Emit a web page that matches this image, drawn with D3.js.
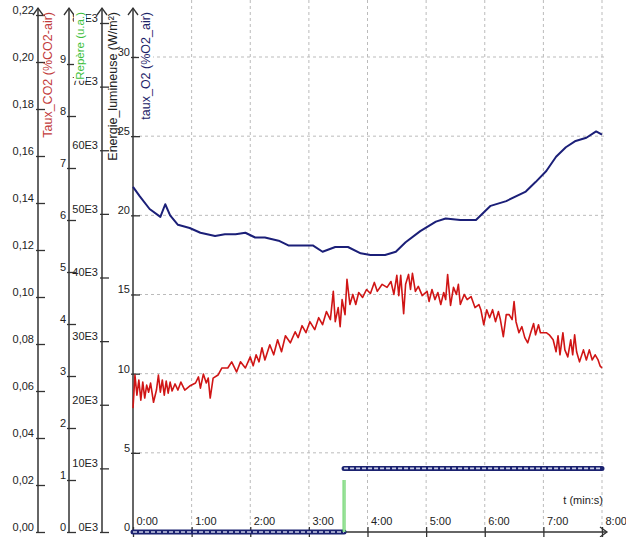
<!DOCTYPE html>
<meta charset="utf-8">
<body style="margin:0;background:#fff">
<style>
text { font-family: "Liberation Sans", Arial, sans-serif; }
.tick text { font-size: 11px; fill: #222; }
.tick line { stroke: #333; stroke-width: 1.3px; }
.grid { stroke: #bbb; stroke-width: 1px; stroke-dasharray: 3,3; }
</style>
<script src="https://cdn.jsdelivr.net/npm/d3@7"></script>
<script>

// time in seconds
var minuteTicks = [0, 60, 120, 180, 240, 300, 360, 420, 480];

var o2Time = [0, 7, 17, 28, 33, 38, 46, 58, 69, 84, 94, 105, 115, 125, 135, 149, 159, 171, 184, 194, 207, 220, 233, 243, 258, 269, 279, 294, 310, 320, 335, 351, 366, 382, 402, 412, 423, 433, 443, 453, 464, 474, 480];
var o2Values = [21.8, 21.2, 20.4, 19.9, 20.7, 20.0, 19.4, 19.2, 18.9, 18.7, 18.8, 18.8, 18.9, 18.6, 18.6, 18.4, 18.1, 18.1, 18.1, 17.7, 18.0, 18.0, 17.6, 17.5, 17.5, 17.7, 18.3, 19.0, 19.6, 19.8, 19.7, 19.7, 20.6, 20.9, 21.5, 22.1, 22.8, 23.7, 24.3, 24.7, 24.9, 25.3, 25.1];

var co2Time = [0, 2, 4, 6, 8, 10, 12, 14, 16, 18, 21, 24, 26, 28, 30, 32, 34, 36, 38, 40, 43, 46, 49, 53, 58, 64, 67, 69, 72, 75, 77, 79, 82, 87, 91, 97, 101, 106, 110, 115, 120, 123, 126, 129, 132, 135, 140, 144, 148, 152, 156, 161, 166, 169, 173, 177, 181, 186, 190, 194, 198, 202, 205, 207, 210, 212, 214, 217, 219, 222, 225, 228, 231, 235, 239, 243, 247, 250, 255, 260, 264, 267, 270, 272, 274, 277, 279, 282, 284, 286, 289, 292, 296, 301, 303, 306, 309, 312, 315, 318, 320, 322, 325, 328, 331, 333, 335, 339, 342, 346, 350, 354, 356, 359, 362, 365, 368, 371, 374, 376, 379, 382, 385, 388, 390, 392, 395, 398, 401, 404, 407, 410, 412, 415, 417, 423, 426, 430, 433, 435, 437, 440, 442, 445, 448, 450, 452, 454, 457, 461, 464, 467, 470, 473, 476, 478, 480];
var co2Values = [0.0527, 0.0668, 0.0582, 0.0647, 0.0561, 0.0638, 0.0570, 0.0625, 0.0595, 0.0634, 0.0552, 0.0604, 0.0668, 0.0595, 0.0647, 0.0582, 0.0642, 0.0591, 0.0638, 0.0600, 0.0630, 0.0604, 0.0638, 0.0604, 0.0621, 0.0634, 0.0660, 0.0612, 0.0672, 0.0634, 0.0655, 0.0570, 0.0655, 0.0668, 0.0698, 0.0698, 0.0724, 0.0681, 0.0724, 0.0698, 0.0745, 0.0707, 0.0754, 0.0724, 0.0784, 0.0732, 0.0797, 0.0754, 0.0818, 0.0767, 0.0835, 0.0805, 0.0852, 0.0827, 0.0878, 0.0848, 0.0895, 0.0861, 0.0912, 0.0882, 0.0938, 0.0904, 0.1024, 0.0895, 0.0955, 0.0874, 0.0989, 0.0925, 0.1075, 0.0968, 0.1011, 0.0968, 0.1019, 0.0998, 0.1032, 0.1015, 0.1062, 0.1024, 0.1054, 0.1041, 0.1066, 0.1011, 0.1092, 0.1006, 0.1092, 0.0929, 0.1054, 0.1096, 0.1032, 0.1101, 0.1024, 0.1045, 0.1006, 0.1024, 0.0981, 0.1032, 0.0989, 0.1019, 0.0968, 0.1019, 0.0989, 0.1096, 0.0964, 0.1041, 0.1011, 0.1054, 0.0968, 0.1011, 0.0989, 0.1002, 0.0955, 0.0968, 0.0946, 0.0882, 0.0946, 0.0912, 0.0946, 0.0895, 0.0938, 0.0904, 0.0831, 0.0925, 0.0925, 0.0904, 0.0981, 0.0895, 0.0848, 0.0874, 0.0827, 0.0805, 0.0848, 0.0887, 0.0839, 0.0882, 0.0848, 0.0848, 0.0839, 0.0818, 0.0767, 0.0835, 0.0754, 0.0848, 0.0775, 0.0745, 0.0818, 0.0754, 0.0839, 0.0767, 0.0724, 0.0775, 0.0732, 0.0775, 0.0732, 0.0754, 0.0732, 0.0707, 0.0698];

// energie lumineuse (W/m2), null = break in the line
var energyTime = [0, 216, 216, 216, 480];
var energyValues = [0, 0, null, 10000, 10000];

// repere (u.a.)
var repereTime = [216, 216];
var repereValues = [0, 1];

var co2Ticks = [0, 0.02, 0.04, 0.06, 0.08, 0.10, 0.12, 0.14, 0.16, 0.18, 0.20, 0.22];
var repereTicks = [0, 1, 2, 3, 4, 5, 6, 7, 8, 9];
var energyTicks = [0, 10000, 20000, 30000, 40000, 50000, 60000, 70000, 80000];
var o2Ticks = [0, 5, 10, 15, 20, 25, 30];

var W = 626, H = 537, y0 = 532;

var svg = d3.select("body").append("svg")
    .attr("width", W)
    .attr("height", H);

var x = d3.scaleLinear().domain([0, 480]).range([133, 602]);
var yCO2 = d3.scaleLinear().domain([0, 0.22]).range([y0, 15]);
var yRep = d3.scaleLinear().domain([0, 10]).range([y0, 12]);
var yEn = d3.scaleLinear().domain([0, 80000]).range([y0, 23]);
var yO2 = d3.scaleLinear().domain([0, 30]).range([y0, 57]);

// grid
svg.selectAll(".vgrid").data(minuteTicks.slice(1)).enter().append("line")
    .attr("class", "grid")
    .attr("x1", d => x(d)).attr("x2", d => x(d))
    .attr("y1", 0).attr("y2", y0);
svg.selectAll(".hgrid").data(o2Ticks.slice(1)).enter().append("line")
    .attr("class", "grid")
    .attr("x1", x(0)).attr("x2", 605)
    .attr("y1", d => yO2(d)).attr("y2", d => yO2(d));

function vAxis(px, scale, ticks, fmt, pad, title, color, tx, fs, whiteBg) {
  var g = svg.append("g").attr("transform", "translate(" + px + ",0)");
  g.call(d3.axisLeft(scale).tickValues(ticks).tickFormat(fmt)
      .tickSizeInner(-7).tickSizeOuter(0).tickPadding(pad));
  g.select(".domain").remove();
  g.selectAll(".tick line").attr("x1", -2);
  g.selectAll(".tick text").attr("dy", "-0.15em");
  g.append("line").attr("x1", 0).attr("x2", 0).attr("y1", y0).attr("y2", 8)
      .attr("stroke", "#333").attr("stroke-width", 1.5);
  g.append("path").attr("d", "M-5,15L0,8L5,15")
      .attr("fill", "none").attr("stroke", "#333").attr("stroke-width", 1.3);
  var t = svg.append("text")
      .attr("transform", "translate(" + tx + ",12) rotate(-90)")
      .attr("text-anchor", "end")
      .style("font-size", fs + "px")
      .attr("fill", color)
      .text(title);
  if (whiteBg) {
    var b = t.node().getBBox();
    svg.insert("rect", function() { return t.node(); })
        .attr("transform", "translate(" + tx + ",12) rotate(-90)")
        .attr("x", b.x - 1).attr("y", b.y).attr("width", b.width + 2).attr("height", b.height)
        .attr("fill", "#fff");
  }
}

vAxis(38, yCO2, co2Ticks, d => d3.format(".2f")(d).replace(".", ","), 4,
  "Taux_CO2 (%CO2-air)", "#c23b3b", 52, 12.5, false);
vAxis(102, yEn, energyTicks, d => (d / 1000) + "E3", 4,
  "Energie_lumineuse (W/m²)", "#222", 117, 12.5, false);
vAxis(69, yRep, repereTicks, d => d, 3,
  "Repère (u.a.)", "#3cbf3c", 84, 11.5, true);
vAxis(133, yO2, o2Ticks, d => d, 3,
  "taux_O2 (%O2_air)", "#1c2368", 150, 12.5, true);

// x axis
var gx = svg.append("g").attr("transform", "translate(0," + y0 + ")");
gx.call(d3.axisBottom(x).tickValues(minuteTicks)
    .tickFormat(d => (d / 60) + ":00").tickSizeOuter(0));
gx.select(".domain").remove();
gx.selectAll(".tick line").attr("y1", -5).attr("y2", 6);
gx.selectAll(".tick text").attr("text-anchor", "start")
    .attr("x", 3).attr("y", -7).attr("dy", 0);
gx.append("line").attr("x1", x(0)).attr("x2", 607).attr("y1", 0).attr("y2", 0)
    .attr("stroke", "#333").attr("stroke-width", 1.5);
gx.append("path").attr("d", "M600,-5L607,0L600,5")
    .attr("fill", "none").attr("stroke", "#333").attr("stroke-width", 1.3);

svg.append("text").attr("x", 603).attr("y", 504).attr("text-anchor", "end")
    .style("font-size", "11px").attr("fill", "#222").text("t (min:s)");

// energie: thick dotted marker line
var energyLine = d3.line()
    .defined((d, i) => energyValues[i] !== null)
    .x((d, i) => x(energyTime[i]))
    .y((d, i) => yEn(energyValues[i]));
svg.append("path").datum(energyTime)
    .attr("d", energyLine)
    .attr("fill", "none").attr("stroke", "#1b2270").attr("stroke-width", 5)
    .attr("stroke-linecap", "round");
svg.append("path").datum(energyTime)
    .attr("d", energyLine)
    .attr("fill", "none").attr("stroke", "#c9cde6").attr("stroke-width", 1.6)
    .attr("stroke-dasharray", "4,2");

// repere
var repLine = d3.line()
    .x((d, i) => x(repereTime[i]))
    .y((d, i) => yRep(repereValues[i]));
svg.append("path").datum(repereTime)
    .attr("d", repLine)
    .attr("fill", "none").attr("stroke", "#5ccf5c").attr("stroke-width", 3);
svg.append("path").datum(repereTime)
    .attr("d", repLine)
    .attr("fill", "none").attr("stroke", "#e6f7e6").attr("stroke-width", 0.8);

// taux CO2
svg.append("path").datum(co2Time)
    .attr("d", d3.line()
      .x((d, i) => x(co2Time[i]))
      .y((d, i) => yCO2(co2Values[i])))
    .attr("fill", "none").attr("stroke", "#d01515").attr("stroke-width", 1.6)
    .attr("stroke-linejoin", "round");

// taux O2
svg.append("path").datum(o2Time)
    .attr("d", d3.line()
      .x((d, i) => x(o2Time[i]))
      .y((d, i) => yO2(o2Values[i])))
    .attr("fill", "none").attr("stroke", "#1b1f78").attr("stroke-width", 2)
    .attr("stroke-linejoin", "round");

</script>
